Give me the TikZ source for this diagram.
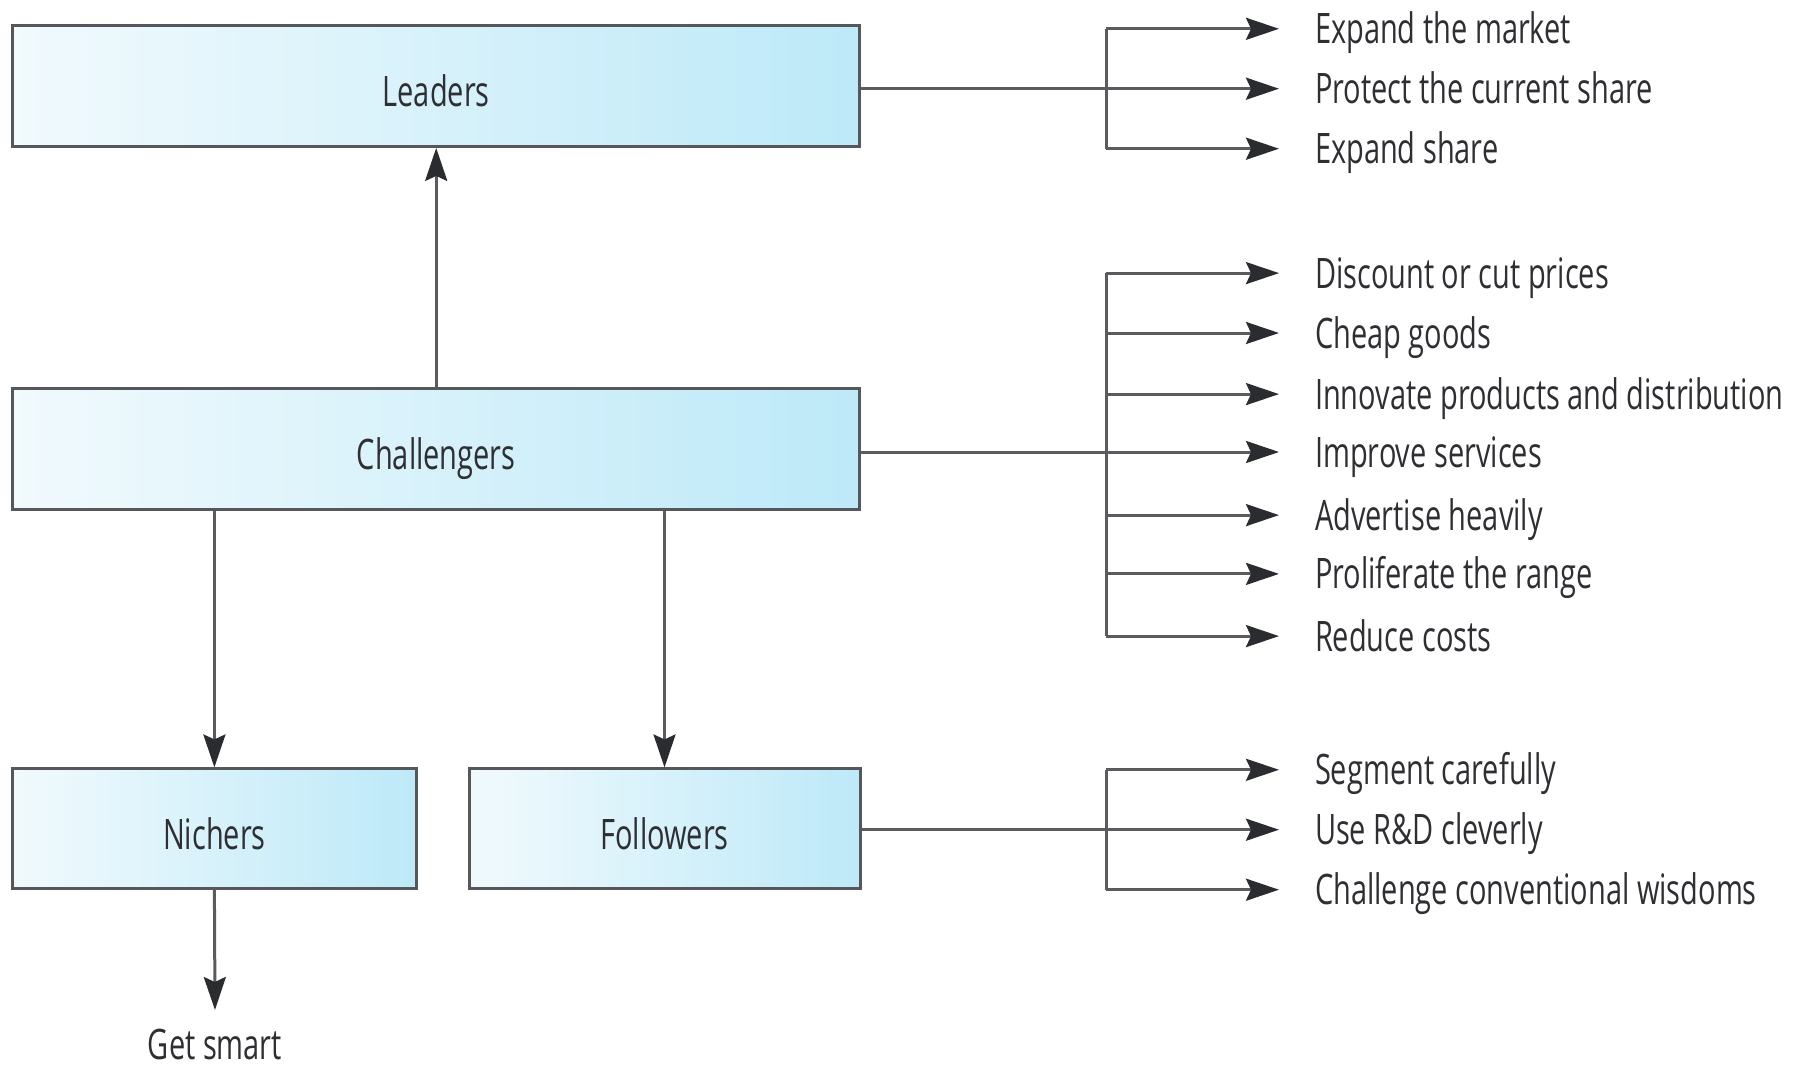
\documentclass[tikz,border=0pt]{standalone}
\usepackage{fontspec}
\setmainfont[FakeStretch=0.69]{Open Sans}
\usetikzlibrary{arrows.meta}
\definecolor{txt}{HTML}{2E2F33}
\definecolor{ln}{HTML}{5A5B5E}
\definecolor{tip}{HTML}{2B2C30}
\definecolor{bord}{HTML}{55575A}
\definecolor{fillL}{HTML}{F1FAFD}
\definecolor{fillR}{HTML}{BDE9F8}
\tikzset{
  box/.style={draw=bord, line width=3pt, left color=fillL, right color=fillR,
    inner sep=0pt, text=txt, text height=42pt, text depth=0pt,
    font=\fontsize{42}{46}\selectfont},
  item/.style={anchor=west, inner xsep=0pt, inner ysep=0pt, outer sep=0pt,
    text height=34pt, text depth=4pt, text=txt, font=\fontsize{42}{46}\selectfont},
  conn/.style={draw=ln, line width=3pt},
  arr/.style={conn, -{Stealth[length=33pt, width=22pt, inset=5pt, color=tip]}},
}
\begin{document}
\begin{tikzpicture}[x=1pt, y=-1pt]
\useasboundingbox (0,0) rectangle (1807,1066);
% boxes
\node[box, minimum width=847pt, minimum height=121pt] (leaders) at (436.2,85.9) {Leaders};
\node[box, minimum width=847pt, minimum height=121pt] (chal) at (436.2,448.9) {Challengers};
\node[box, minimum width=403.5pt, minimum height=119.5pt] (nich) at (214.4,828.7) {Nichers};
\node[box, minimum width=391pt, minimum height=119.5pt] (foll) at (664.5,828.7) {Followers};
\node[text=txt, font=\fontsize{42}{46}\selectfont, inner sep=0pt, text height=30pt, text depth=0pt, outer sep=19pt] (smart) at (215,1044) {Get smart};
% vertical arrows
\draw[arr] (chal.north -| leaders.south) -- (leaders.south);
\draw[arr] (chal.south -| nich.north) -- (nich.north);
\draw[arr] (chal.south -| foll.north) -- (foll.north);
\draw[arr] (nich.south) -- (smart.north);
% branch x
\coordinate (bx) at (1106,0);
% leader items
\node[item] (l1) at (1279,28.8) {\hspace{36pt}Expand the market};
\node[item] (l2) at (1279,88.7) {\hspace{36pt}Protect the current share};
\node[item] (l3) at (1279,148.7) {\hspace{36pt}Expand share};
% challenger items
\node[item] (c1) at (1279,273.1) {\hspace{36pt}Discount or cut prices};
\node[item] (c2) at (1279,333.0) {\hspace{36pt}Cheap goods};
\node[item] (c3) at (1279,394.1) {\hspace{36pt}Innovate products and distribution};
\node[item] (c4) at (1279,452.0) {\hspace{36pt}Improve services};
\node[item] (c5) at (1279,515.1) {\hspace{36pt}Advertise heavily};
\node[item] (c6) at (1279,573.9) {\hspace{36pt}Proliferate the range};
\node[item] (c7) at (1279,636.1) {\hspace{36pt}Reduce costs};
% follower items
\node[item] (f1) at (1279,769.8) {\hspace{36pt}Segment carefully};
\node[item] (f2) at (1279,829.7) {\hspace{36pt}Use R\&D cleverly};
\node[item] (f3) at (1279,889.7) {\hspace{36pt}Challenge conventional wisdoms};
% leader branch
\draw[conn] (bx |- l1.west) -- (bx |- l3.west);
\draw[conn] (leaders.east |- l2.west) -- (bx |- l2.west);
\foreach \n in {l1,l2,l3} \draw[arr] (bx |- \n.west) -- (\n.west);
% challenger branch
\draw[conn] (bx |- c1.west) -- (bx |- c7.west);
\draw[conn] (chal.east |- c4.west) -- (bx |- c4.west);
\foreach \n in {c1,c2,c3,c4,c5,c6,c7} \draw[arr] (bx |- \n.west) -- (\n.west);
% follower branch
\draw[conn] (bx |- f1.west) -- (bx |- f3.west);
\draw[conn] (foll.east |- f2.west) -- (bx |- f2.west);
\foreach \n in {f1,f2,f3} \draw[arr] (bx |- \n.west) -- (\n.west);
\end{tikzpicture}
\end{document}
